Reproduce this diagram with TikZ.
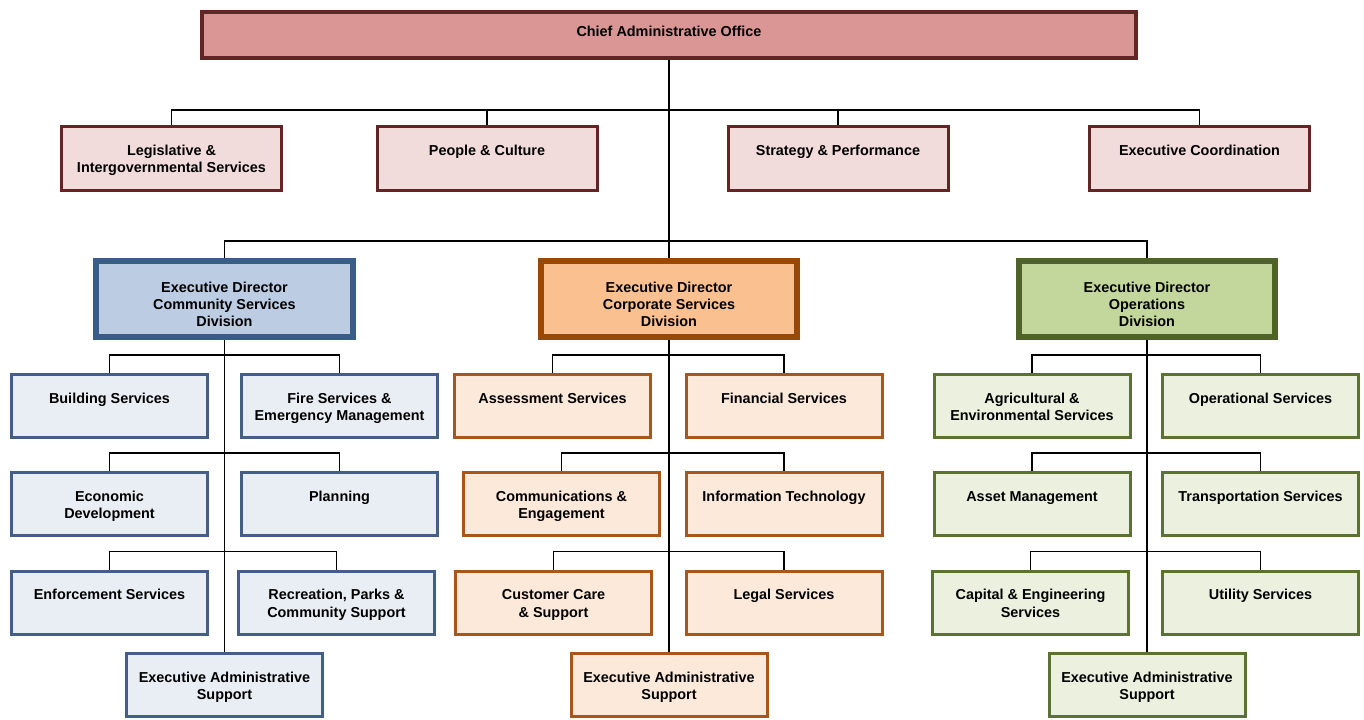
\documentclass[tikz,border=0pt]{standalone}
\usepackage{fontspec}
\setmainfont{Liberation Sans}
\usetikzlibrary{positioning,calc}
\definecolor{caoline}{HTML}{632523}
\definecolor{caofill}{HTML}{D99694}
\definecolor{stafffill}{HTML}{F2DCDB}
\definecolor{commline}{HTML}{385D8A}
\definecolor{commfill}{HTML}{BCCDE3}
\definecolor{commsubline}{HTML}{435F88}
\definecolor{commsubfill}{HTML}{E9EEF5}
\definecolor{corpline}{HTML}{984807}
\definecolor{corpfill}{HTML}{FAC090}
\definecolor{corpsubline}{HTML}{A8561A}
\definecolor{corpsubfill}{HTML}{FDE9D9}
\definecolor{opsline}{HTML}{4F6228}
\definecolor{opsfill}{HTML}{C3D69B}
\definecolor{opssubline}{HTML}{5B7230}
\definecolor{opssubfill}{HTML}{EBF1DE}
\newcommand{\orgfont}{\bfseries\fontsize{8.2}{9.9}\selectfont}
\tikzset{
  % boxes, text set at the top
  orgbox/.style n args={3}{inner sep=0pt,font=\orgfont,
    execute at begin node={\begin{minipage}[t][#2][t]{#1}\centering\vspace*{#3}\strut},
    execute at end node={\end{minipage}}},
  caobox/.style={orgbox={186.6mm}{9.2mm}{2.4mm},draw=caoline,fill=caofill,line width=0.8mm},
  staffbox/.style={orgbox={44mm}{12.8mm}{3.3mm},draw=caoline,fill=stafffill,line width=0.6mm},
  dirbox/.style={orgbox={51.2mm}{15.2mm}{3.8mm},line width=1.2mm},
  unitbox/.style={orgbox={39.2mm}{12.6mm}{3.3mm},line width=0.6mm},
  commdir/.style={dirbox,draw=commline,fill=commfill},
  corpdir/.style={dirbox,draw=corpline,fill=corpfill},
  opsdir/.style={dirbox,draw=opsline,fill=opsfill},
  communit/.style={unitbox,draw=commsubline,fill=commsubfill},
  corpunit/.style={unitbox,draw=corpsubline,fill=corpsubfill},
  opsunit/.style={unitbox,draw=opssubline,fill=opssubfill},
  % lines
  link/.style={draw=black,line width=0.3mm},
}
\begin{document}
\begin{tikzpicture}[x=0.2mm,y=-0.2mm]
\useasboundingbox (0,0) rectangle (1364,719);
  \node[caobox] (cao) at (669,35) {Chief Administrative Office};
  \node[staffbox] (leg) at (171.5,158.5) {Legislative \&\\Intergovernmental Services};
  \node[staffbox] (ppl) at (487,158.5) {People \& Culture};
  \node[staffbox] (str) at (838,158.5) {Strategy \& Performance};
  \node[staffbox] (exc) at (1199.5,158.5) {Executive Coordination};
  \node[commdir] (comm) at (224.5,299) {Executive Director\\Community Services\\Division};
  \node[corpdir] (corp) at (669,299) {Executive Director\\Corporate Services\\Division};
  \node[opsdir] (ops) at (1147,299) {Executive Director\\Operations\\Division};
  % community services
  \node[communit] (bld) at (109.5,406) {Building Services};
  \node[communit] (fire) at (339.5,406) {Fire Services \&\\Emergency Management};
  \node[communit] (eco) at (109.5,504) {Economic\\Development};
  \node[communit] (pln) at (339.5,504) {Planning};
  \node[communit] (enf) at (109.5,602.5) {Enforcement Services};
  \node[communit] (rec) at (336.5,602.5) {Recreation, Parks \&\\Community Support};
  \node[communit] (cadm) at (224.5,685) {Executive Administrative\\Support};
  % corporate services
  \node[corpunit] (asm) at (552.5,406) {Assessment Services};
  \node[corpunit] (fin) at (784,406) {Financial Services};
  \node[corpunit] (cmm) at (561.5,504) {Communications \&\\Engagement};
  \node[corpunit] (it) at (784,504) {Information Technology};
  \node[corpunit] (cst) at (553.5,602.5) {Customer Care\\\& Support};
  \node[corpunit] (lgl) at (784,602.5) {Legal Services};
  \node[corpunit] (padm) at (669,685) {Executive Administrative\\Support};
  % operations
  \node[opsunit] (agr) at (1032,406) {Agricultural \&\\Environmental Services};
  \node[opsunit] (opr) at (1260.5,406) {Operational Services};
  \node[opsunit] (ast) at (1032,504) {Asset Management};
  \node[opsunit] (trn) at (1260.5,504) {Transportation Services};
  \node[opsunit] (cap) at (1030.5,602.5) {Capital \& Engineering\\Services};
  \node[opsunit] (utl) at (1260.5,602.5) {Utility Services};
  \node[opsunit] (oadm) at (1147,685) {Executive Administrative\\Support};
  % connectors
  \coordinate (hub) at (669,110);
  \coordinate (divhub) at (669,241);
  \draw[link] (cao.south) -- (corp.north);
  \draw[link] (leg.north) |- (hub) -| (exc.north);
  \draw[link] (ppl.north) -- (ppl.north |- hub);
  \draw[link] (str.north) -- (str.north |- hub);
  \draw[link] (comm.north) |- (divhub) -| (ops.north);
  \draw[link] (comm.south) -- (cadm.north);
  \draw[link] (corp.south) -- (padm.north);
  \draw[link] (ops.south) -- (oadm.north);
  \foreach \a/\b in {bld/fire,eco/pln,enf/rec,asm/fin,cmm/it,cst/lgl,agr/opr,ast/trn,cap/utl}
    \draw[link] (\a.north) -- ++(0,-18) -| (\b.north);
\end{tikzpicture}
\end{document}
